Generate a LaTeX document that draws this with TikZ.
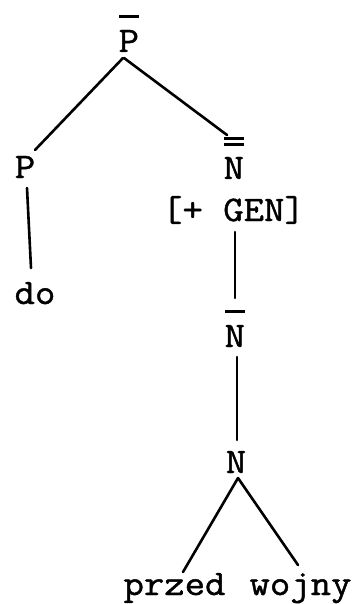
\documentclass[tikz,border=0pt]{standalone}
\usepackage{fontspec}
\setmainfont[FakeStretch=1.1,FakeBold=1.2]{Latin Modern Mono}
\usetikzlibrary{calc}
\newcommand\barline{\hbox to 10.4pt{\hss\rule{10pt}{1.4pt}\hss}}
\newcommand\onebar[1]{\vbox{\offinterlineskip\barline\vskip6pt\hbox{#1}}}
\newcommand\twobar[1]{\vbox{\offinterlineskip\barline\vskip1.6pt\barline\vskip5.5pt\hbox{#1}}}
\begin{document}
\begin{tikzpicture}[x=0.5pt,y=-0.5pt,
  lbl/.style={anchor=base,inner sep=0pt,outer sep=0pt,font=\fontsize{18pt}{20pt}\selectfont},
  edge/.style={line width=1.3pt,line cap=round}]
\fill[white] (0,0) rectangle (355,604);
\useasboundingbox (0,0) rectangle (355,604);
\node[lbl] (pb) at (129,52) {\onebar{P}};
\node[lbl] (p) at (25,178) {P};
\node[lbl] (do) at (35,304) {do};
\node[lbl] (nn) at (234,179) {\twobar{N}};
\node[lbl] (gen) at (233.5,221) {[+ GEN]};
\node[lbl] (nb) at (235,347) {\onebar{N}};
\node[lbl] (n) at (236,473) {N};
\node[lbl] (przed) at (174.5,595) {przed};
\node[lbl] (wojny) at (300.5,595) {wojny};
\draw[edge] ($(pb.base)+(-6,6)$) -- ($(p.base)+(10,-28)$);
\draw[edge] ($(pb.base)+(-5,6)$) -- ($(nn.base)+(-7,-44)$);
\draw[edge] ($(p.base)+(2,10)$) -- ($(do.base)+(-4,-36)$);
\draw[edge] ($(gen.base)+(1.5,11)$) -- ($(nb.base)+(0,-49)$);
\draw[edge] ($(nb.base)+(2,10)$) -- ($(n.base)+(1,-33)$);
\draw[edge] ($(n.base)+(2,5)$) -- ($(przed.base)+(8.5,-23)$);
\draw[edge] ($(n.base)+(2,5)$) -- ($(wojny.base)+(-2.5,-30)$);
\end{tikzpicture}
\end{document}
